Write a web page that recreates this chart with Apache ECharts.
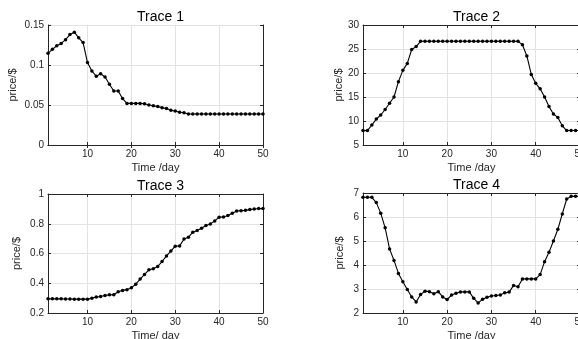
<!DOCTYPE html>
<html><head><meta charset="utf-8">
<script src="https://cdn.jsdelivr.net/npm/echarts@6/dist/echarts.min.js"></script>
<style>html,body{margin:0;padding:0;background:#fff}#c{width:578px;height:339px}</style>
</head><body><div id="c"></div>
<script>
var days = [];
for (var d = 1; d <= 50; d++) days.push(d);
var xTicks = [10, 20, 30, 40, 50];
var titles = ['Trace 1', 'Trace 2', 'Trace 3', 'Trace 4'];
var xNames = ['Time /day', 'Time /day', 'Time/ day', 'Time /day'];
var yName = 'price/$';
var trace1 = [0.1146,0.1196,0.124,0.127,0.1317,0.138,0.141,0.134,0.128,0.103,
  0.0925,0.086,0.089,0.085,0.076,0.0675,0.0675,0.058,0.052,0.052,
  0.052,0.052,0.0515,0.050,0.049,0.048,0.0467,0.0455,0.0433,0.0425,
  0.041,0.0404,0.0388,0.0388,0.0388,0.0388,0.0388,0.0388,0.0388,0.0388,
  0.0388,0.0388,0.0388,0.0388,0.0388,0.0388,0.0388,0.0388,0.0388,0.0388];
var trace2 = [8,8,9.17,10.4,11.25,12.4,13.7,15,18.2,20.55,
  22,24.9,25.5,26.6,26.6,26.6,26.6,26.6,26.6,26.6,
  26.6,26.6,26.6,26.6,26.6,26.6,26.6,26.6,26.6,26.6,
  26.6,26.6,26.6,26.6,26.6,26.6,25.9,23.55,19.7,17.85,
  16.7,15.02,13.0,11.45,10.75,9.0,8.02,8.02,8.02,8.02];
var trace3 = [0.295,0.295,0.295,0.295,0.294,0.294,0.293,0.293,0.293,0.293,
  0.30,0.307,0.311,0.318,0.322,0.323,0.343,0.352,0.357,0.37,
  0.394,0.428,0.459,0.49,0.497,0.513,0.546,0.584,0.616,0.649,
  0.651,0.698,0.709,0.743,0.754,0.77,0.788,0.799,0.819,0.844,
  0.846,0.855,0.87,0.886,0.888,0.89,0.895,0.899,0.902,0.902];
var trace4 = [6.82,6.82,6.82,6.6,6.16,5.55,4.67,4.19,3.65,3.3,
  2.98,2.67,2.46,2.77,2.91,2.89,2.8,2.89,2.67,2.56,
  2.75,2.82,2.88,2.88,2.88,2.61,2.42,2.57,2.66,2.71,
  2.73,2.75,2.84,2.87,3.15,3.09,3.42,3.42,3.42,3.42,
  3.6,4.14,4.53,5.0,5.49,6.13,6.75,6.86,6.86,6.86];
var traces = [trace1, trace2, trace3, trace4];
var yMin = [0, 5, 0.2, 2], yMax = [0.15, 30, 1, 7], yStep = [0.05, 5, 0.2, 1];

var grids = [
  {left: 48, top: 25, width: 215, height: 120, outerBoundsMode: 'none', containLabel: false},
  {left: 363, top: 25, width: 217, height: 120, outerBoundsMode: 'none', containLabel: false},
  {left: 48, top: 194, width: 215, height: 119, outerBoundsMode: 'none', containLabel: false},
  {left: 363, top: 193, width: 217, height: 120, outerBoundsMode: 'none', containLabel: false}
];
var yNameGap = [30, 18, 26, 18];
var font = 'Liberation Sans, Arial, Helvetica, sans-serif';
var axCol = '#262626';
var option = {animation: false, backgroundColor: '#fff', grid: grids, title: [], xAxis: [], yAxis: [], series: []};
for (var i = 0; i < 4; i++) {
  var g = grids[i];
  option.title.push({text: titles[i], left: g.left + g.width / 2, top: g.top - 20, textAlign: 'center',
    textStyle: {fontFamily: font, fontSize: 14, fontWeight: 'normal', color: '#000'}});
  var base = {type: 'value', min: 1, max: 50, gridIndex: i,
    axisLine: {show: true, lineStyle: {color: axCol, width: 1}},
    axisTick: {show: true, inside: true, length: 3, customValues: xTicks, lineStyle: {color: axCol}}};
  option.xAxis.push(Object.assign({}, base, {position: 'bottom', name: xNames[i], nameLocation: 'middle', nameGap: 17,
    nameTextStyle: {fontFamily: font, fontSize: 11, color: axCol},
    axisLabel: {customValues: xTicks, fontFamily: font, fontSize: 10, color: axCol, margin: 4},
    splitLine: {show: true, customValues: xTicks, lineStyle: {color: '#e3e3e3', width: 1}}}));
  option.xAxis.push(Object.assign({}, base, {position: 'top', axisLabel: {show: false}, splitLine: {show: false}}));
  var ybase = {type: 'value', min: yMin[i], max: yMax[i], interval: yStep[i], gridIndex: i,
    axisLine: {show: true, lineStyle: {color: axCol, width: 1}},
    axisTick: {show: true, inside: true, length: 3, lineStyle: {color: axCol}}};
  option.yAxis.push(Object.assign({}, ybase, {position: 'left', name: yName, nameLocation: 'middle', nameGap: yNameGap[i],
    nameTextStyle: {fontFamily: font, fontSize: 11, color: axCol},
    axisLabel: {fontFamily: font, fontSize: 10, color: axCol, margin: 4},
    splitLine: {show: true, lineStyle: {color: '#e3e3e3', width: 1}}}));
  option.yAxis.push(Object.assign({}, ybase, {position: 'right', axisLabel: {show: false}, splitLine: {show: false}}));
  option.series.push({type: 'line', xAxisIndex: 2 * i, yAxisIndex: 2 * i,
    data: days.map(function (d, k) { return [d, traces[i][k]]; }),
    symbol: 'circle', symbolSize: 3.5, showSymbol: true,
    lineStyle: {color: '#000', width: 1.1}, itemStyle: {color: '#000'}});
}
echarts.init(document.getElementById('c'), null, {renderer: 'canvas'}).setOption(option);
</script></body></html>
